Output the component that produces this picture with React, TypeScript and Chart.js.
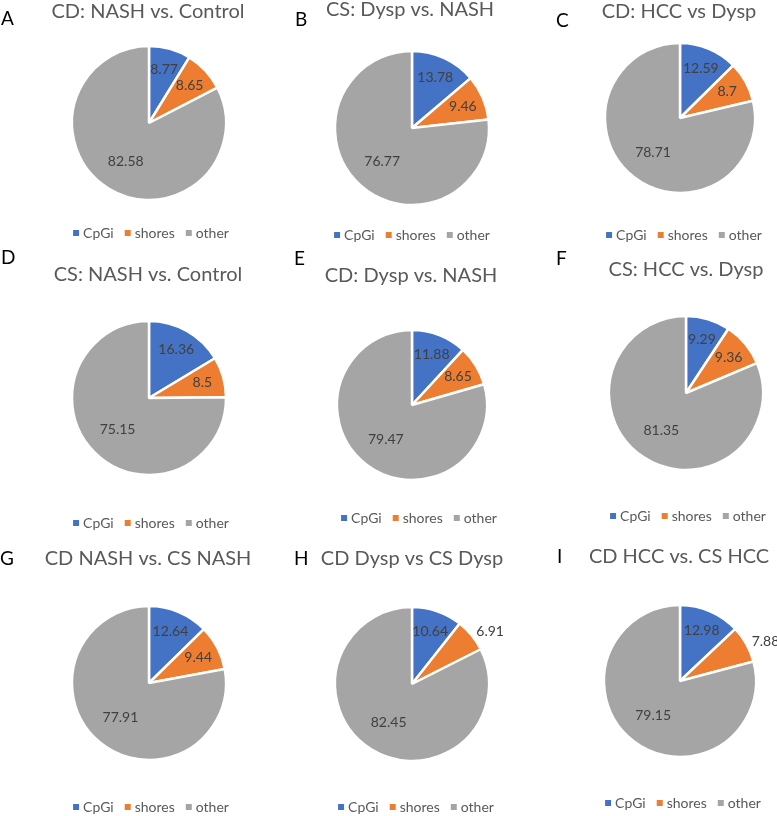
import React, { useEffect, useRef } from 'react';
import { Chart, registerables } from 'chart.js';

Chart.register(...registerables);

// ---------- data ----------
const categories = ['CpGi', 'shores', 'other'];
const panelLetters = ['A', 'B', 'C', 'D', 'E', 'F', 'G', 'H', 'I'];
const panelTitles = [
  'CD: NASH vs. Control',
  'CS: Dysp vs. NASH',
  'CD: HCC vs Dysp',
  'CS: NASH vs. Control',
  'CD: Dysp vs. NASH',
  'CS: HCC vs. Dysp',
  'CD NASH vs. CS NASH',
  'CD Dysp vs CS Dysp',
  'CD HCC vs. CS HCC',
];
const cpgiValues = [8.77, 13.78, 12.59, 16.36, 11.88, 9.29, 12.64, 10.64, 12.98];
const shoresValues = [8.65, 9.46, 8.7, 8.5, 8.65, 9.36, 9.44, 6.91, 7.88];
const otherValues = [82.58, 76.77, 78.71, 75.15, 79.47, 81.35, 77.91, 82.45, 79.15];

// ---------- style / layout ----------
const sliceColors = ['#4472C4', '#ED7D31', '#A5A5A5'];
const FONT = 'Lato, "Open Sans", sans-serif';
const colEdges = [0, 259, 518, 777];
const rowEdges = [0, 249, 541, 816];

const pieLayout = [
  { cx: 149, cy: 123, r: 77 },
  { cx: 412, cy: 128, r: 77 },
  { cx: 680, cy: 118, r: 75 },
  { cx: 149, cy: 398, r: 77 },
  { cx: 412, cy: 405, r: 75 },
  { cx: 686, cy: 393, r: 77 },
  { cx: 149, cy: 683, r: 77 },
  { cx: 412, cy: 684, r: 77 },
  { cx: 680, cy: 681, r: 76 },
];
const titleLayout = [
  { x: 148, y: 18 }, { x: 410, y: 16 }, { x: 679, y: 18 },
  { x: 148, y: 281 }, { x: 411, y: 282 }, { x: 686, y: 276 },
  { x: 148, y: 565 }, { x: 412, y: 565 }, { x: 679, y: 563 },
];
const letterLayout = [
  { x: 1, y: 25 }, { x: 295, y: 26 }, { x: 556, y: 27 },
  { x: 1, y: 264 }, { x: 294, y: 265 }, { x: 556, y: 265 },
  { x: 0, y: 565 }, { x: 294, y: 565 }, { x: 557, y: 563 },
];
const legendLayout = [
  { x: 151, y: 233 }, { x: 412, y: 235 }, { x: 684, y: 235 },
  { x: 151, y: 523 }, { x: 419, y: 518 }, { x: 688, y: 516 },
  { x: 151, y: 807 }, { x: 416, y: 807 }, { x: 683, y: 803 },
];
// slices whose value label sits outside the pie
const outsideLabels: number[][] = [[], [], [], [], [], [], [], [1], [1]];

function Panel({ i }: { i: number }) {
  const ref = useRef<HTMLCanvasElement | null>(null);
  const col = i % 3;
  const row = Math.floor(i / 3);
  const left = colEdges[col];
  const top = rowEdges[row];
  const w = colEdges[col + 1] - left;
  const h = rowEdges[row + 1] - top;

  useEffect(() => {
    const canvas = ref.current;
    if (!canvas) return;
    const { cx, cy, r } = pieLayout[i];
    const lx = cx - left;
    const ly = cy - top;
    const half = r + 3;

    const textPlugin = {
      id: 'panelText',
      afterDatasetsDraw(chart: any) {
        const ctx = chart.ctx;
        const meta = chart.getDatasetMeta(0);
        const values = chart.data.datasets[0].data as number[];
        ctx.save();
        ctx.font = `14px ${FONT}`;
        ctx.fillStyle = '#404040';
        ctx.textBaseline = 'middle';
        meta.data.forEach((arc: any, k: number) => {
          const p = arc.getProps(['x', 'y', 'startAngle', 'endAngle', 'outerRadius'], true);
          const mid = (p.startAngle + p.endAngle) / 2;
          const label = String(values[k]);
          if (outsideLabels[i].includes(k)) {
            const d = p.outerRadius + 6;
            ctx.textAlign = 'left';
            ctx.fillText(label, p.x + Math.cos(mid) * d, p.y + Math.sin(mid) * d);
          } else {
            const f = values[k] > 50 ? 0.58 : 0.72;
            const d = p.outerRadius * f;
            ctx.textAlign = 'center';
            ctx.fillText(label, p.x + Math.cos(mid) * d, p.y + Math.sin(mid) * d);
          }
        });
        ctx.restore();
      },
      afterDraw(chart: any) {
        const ctx = chart.ctx;
        ctx.save();
        // title
        ctx.font = `20px ${FONT}`;
        ctx.fillStyle = '#595959';
        ctx.textAlign = 'center';
        ctx.textBaseline = 'alphabetic';
        ctx.fillText(panelTitles[i], titleLayout[i].x - left, titleLayout[i].y - top);
        // panel letter
        ctx.font = `19px ${FONT}`;
        ctx.fillStyle = '#000000';
        ctx.textAlign = 'left';
        ctx.fillText(panelLetters[i], letterLayout[i].x - left, letterLayout[i].y - top);
        // legend
        ctx.font = `14px ${FONT}`;
        const box = 6;
        const gapBox = 4;
        const gapItem = 11;
        const widths = categories.map((c) => box + gapBox + ctx.measureText(c).width);
        const total = widths.reduce((a, b) => a + b, 0) + gapItem * (categories.length - 1);
        let x = legendLayout[i].x - left - total / 2;
        const y = legendLayout[i].y - top;
        ctx.textBaseline = 'middle';
        categories.forEach((c, k) => {
          ctx.fillStyle = sliceColors[k];
          ctx.fillRect(x, y - box / 2, box, box);
          ctx.fillStyle = '#595959';
          ctx.fillText(c, x + box + gapBox, y + 0.5);
          x += widths[k] + gapItem;
        });
        ctx.restore();
      },
    };

    const chart = new Chart(canvas, {
      type: 'pie',
      data: {
        labels: categories,
        datasets: [
          {
            data: [cpgiValues[i], shoresValues[i], otherValues[i]],
            backgroundColor: sliceColors,
            borderColor: '#FFFFFF',
            borderWidth: 2.5,
          },
        ],
      },
      options: {
        animation: false,
        responsive: false,
        devicePixelRatio: 1,
        radius: r,
        layout: {
          padding: {
            left: lx - half,
            right: w - lx - half,
            top: ly - half,
            bottom: h - ly - half,
          },
        },
        plugins: {
          legend: { display: false },
          title: { display: false },
          tooltip: { enabled: false },
        },
      } as any,
      plugins: [textPlugin],
    });
    return () => chart.destroy();
  }, [i]);

  return (
    <canvas
      ref={ref}
      width={w}
      height={h}
      style={{ position: 'absolute', left, top, width: w, height: h }}
    />
  );
}

export default function App() {
  return (
    <div style={{ position: 'absolute', left: 0, top: 0, width: 777, height: 816, background: '#FFFFFF' }}>
      {panelLetters.map((_, i) => (
        <Panel key={i} i={i} />
      ))}
    </div>
  );
}
